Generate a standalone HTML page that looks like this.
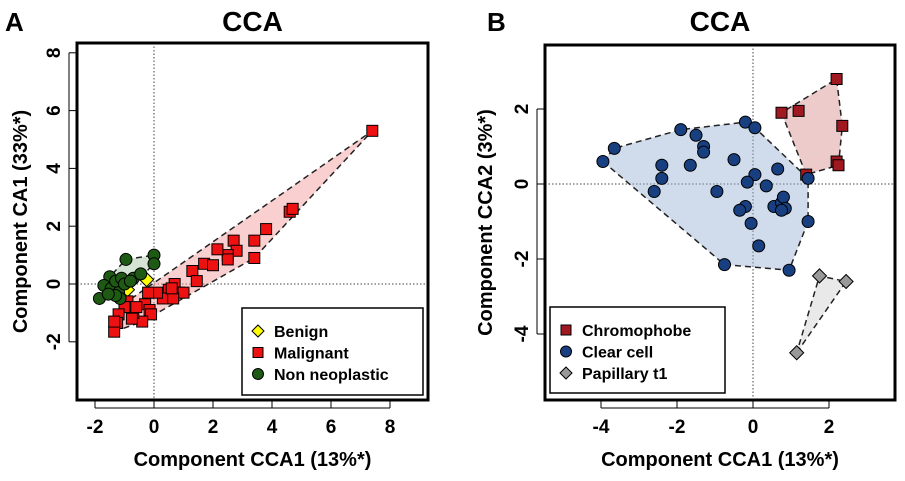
<!DOCTYPE html>
<html><head><meta charset="utf-8"><style>
body{margin:0;background:#fff;font-family:"Liberation Sans",Arial,sans-serif}
svg text{font-family:"Liberation Sans",Arial,sans-serif;font-weight:bold}
</style></head><body>
<svg id="s" width="905" height="476" viewBox="0 0 905 476"></svg>
<script>
// Panel A data
const aMalignant=[[7.4,5.3],[4.6,2.5],[4.7,2.6],[3.8,1.9],[3.4,1.5],[3.4,0.9],[2.7,1.5],[2.8,1.15],[2.5,1.0],[2.5,0.85],[2.15,1.2],[1.7,0.7],[2.0,0.65],[1.3,0.45],[1.45,0.1],[0.7,0],[0.85,-0.3],[1.0,-0.3],[0.5,-0.2],[0.3,-0.5],[0.65,-0.5],[0.6,-0.15],[0.1,-0.3],[-0.2,-0.3],[-0.3,-0.7],[-0.15,-0.9],[-0.1,-1.05],[-0.4,-1.3],[-0.7,-1.0],[-0.75,-1.2],[-0.9,-0.6],[-1.0,-0.8],[-1.2,-1.05],[-1.25,-1.35],[-1.35,-1.65],[-1.35,-1.3],[-0.6,-0.8]];
const aBenign=[[-0.25,0.15],[-0.9,-0.2]];
const aNonNeo=[[0.0,1.0],[0.0,0.7],[-0.95,0.85],[-1.5,0.25],[-1.7,-0.05],[-1.85,-0.5],[-1.45,-0.15],[-1.3,0.1],[-1.1,0.2],[-1.2,-0.3],[-1.0,0.0],[-0.7,0.2],[-0.45,0.35],[-1.15,-0.5],[-0.8,0.1],[-1.3,-0.4],[-1.55,-0.35]];
const aXTicks=[-2,0,2,4,6,8];
const aYTicks=[-2,0,2,4,6,8];
// Panel B data
const bClear=[[-3.95,0.6],[-3.65,0.95],[-1.9,1.45],[-1.5,1.3],[-1.3,1.0],[-1.3,0.85],[-0.2,1.65],[0.05,1.5],[-2.4,0.5],[-2.4,0.15],[-2.6,-0.2],[-1.65,0.5],[-0.5,0.65],[-0.95,-0.2],[0.05,0.25],[-0.15,0.05],[0.35,-0.05],[0.65,0.4],[1.45,0.15],[-0.2,-0.6],[-0.35,-0.7],[0.55,-0.6],[0.75,-0.5],[0.8,-0.35],[0.85,-0.65],[0.75,-0.7],[1.45,-1.0],[-0.05,-1.05],[0.15,-1.65],[-0.75,-2.15],[0.95,-2.3]];
const bChromo=[[0.75,1.9],[1.2,1.95],[2.2,2.8],[2.35,1.55],[2.2,0.6],[2.25,0.5],[1.4,0.25]];
const bPapillary=[[1.75,-2.45],[2.45,-2.6],[1.15,-4.5]];
const bXTicks=[-4,-2,0,2];
const bYTicks=[-4,-2,0,2];

const S=document.getElementById('s');const NS='http://www.w3.org/2000/svg';
function mk(t,a,p){const e=document.createElementNS(NS,t);for(const k in a)e.setAttribute(k,a[k]);(p||S).appendChild(e);return e;}
function hull(pts){const p=pts.slice().sort((a,b)=>a[0]-b[0]||a[1]-b[1]);const cr=(o,a,b)=>(a[0]-o[0])*(b[1]-o[1])-(a[1]-o[1])*(b[0]-o[0]);const lo=[],up=[];for(const q of p){while(lo.length>=2&&cr(lo[lo.length-2],lo[lo.length-1],q)<=0)lo.pop();lo.push(q);}for(const q of p.slice().reverse()){while(up.length>=2&&cr(up[up.length-2],up[up.length-1],q)<=0)up.pop();up.push(q);}return lo.slice(0,-1).concat(up.slice(0,-1));}
function marker(shape,x,y,fill,name){let e;
 if(shape==='sq')e=mk('rect',{x:x-5.5,y:y-5.5,width:11,height:11,fill:fill,stroke:'#000','stroke-width':1});
 else if(shape==='ci')e=mk('circle',{cx:x,cy:y,r:6,fill:fill,stroke:'#000','stroke-width':1});
 else e=mk('polygon',{points:`${x},${y-7} ${x+7},${y} ${x},${y+7} ${x-7},${y}`,fill:fill,stroke:'#000','stroke-width':1});
 
 return e;}
function panel(cfg){
 const X=v=>cfg.x0+v*cfg.kx, Y=v=>cfg.y0-v*cfg.ky;
 mk('line',{x1:X(0),x2:X(0),y1:cfg.box[1],y2:cfg.box[3],stroke:'#444','stroke-dasharray':'1.5,2','stroke-width':1});
 mk('line',{x1:cfg.box[0],x2:cfg.box[2],y1:Y(0),y2:Y(0),stroke:'#444','stroke-dasharray':'1.5,2','stroke-width':1});
 for(const g of cfg.groups){if(!g.hull)continue;const h=hull(g.pts);
  const pg=mk('polygon',{points:h.map(p=>X(p[0])+','+Y(p[1])).join(' '),fill:g.hull,stroke:'#222','stroke-width':1.5,'stroke-dasharray':'6,4'});
  
  }
 for(const g of cfg.groups)for(const p of g.pts)marker(g.shape,X(p[0]),Y(p[1]),g.fill,g.name+'-point');
 const b=cfg.box;const r=mk('rect',{x:b[0],y:b[1],width:b[2]-b[0],height:b[3]-b[1],fill:'none',stroke:'#000','stroke-width':3});
 
 for(const t of cfg.xt){mk('line',{x1:X(t),x2:X(t),y1:b[3]+1,y2:b[3]+8,stroke:'#000','stroke-width':1});
  const tx=mk('text',{x:X(t),y:b[3]+33,'text-anchor':'middle','font-size':19});tx.textContent=t;
  }
 mk('line',{x1:X(cfg.xt[0]),x2:X(cfg.xt[cfg.xt.length-1]),y1:b[3]+8,y2:b[3]+8,stroke:'#000','stroke-width':1});
 for(const t of cfg.yt){mk('line',{x1:b[0]-1,x2:b[0]-8,y1:Y(t),y2:Y(t),stroke:'#000','stroke-width':1});
  const tx=mk('text',{x:b[0]-17,y:Y(t),'text-anchor':'middle','font-size':19,transform:`rotate(-90 ${b[0]-17} ${Y(t)})`});tx.textContent=t;
  }
 mk('line',{x1:b[0]-8,x2:b[0]-8,y1:Y(cfg.yt[0]),y2:Y(cfg.yt[cfg.yt.length-1]),stroke:'#000','stroke-width':1});
 let t=mk('text',{x:(b[0]+b[2])/2,y:31,'text-anchor':'middle','font-size':28});t.textContent='CCA';
 
 t=mk('text',{x:cfg.letterX,y:31,'font-size':26});t.textContent=cfg.letter;
 
 t=mk('text',{x:(b[0]+b[2])/2,y:466,'text-anchor':'middle','font-size':20});t.textContent='Component CCA1 (13%*)';
 
 const yx=cfg.yTitleX,yy=(b[1]+b[3])/2;
 t=mk('text',{x:yx,y:yy,'text-anchor':'middle','font-size':20,transform:`rotate(-90 ${yx} ${yy})`});t.textContent=cfg.ytitle;
 
 const L=cfg.legend;const lr=mk('rect',{x:L[0],y:L[1],width:L[2],height:L[3],fill:'#fff',stroke:'#000','stroke-width':1.5});
 
 cfg.groups.forEach((g,i)=>{const cy=L[1]+23+i*21.5;
  const m=marker(g.shape==='sq'?'sq':g.shape,L[0]+16,cy,g.fill,'legend-marker');
  if(g.shape==='sq'){m.setAttribute('x',L[0]+11);m.setAttribute('y',cy-5);m.setAttribute('width',10);m.setAttribute('height',10);}
  if(g.shape==='ci')m.setAttribute('r',5.5);
  if(g.shape==='di')m.setAttribute('points',`${L[0]+16},${cy-6} ${L[0]+22},${cy} ${L[0]+16},${cy+6} ${L[0]+10},${cy}`);
  const tx=mk('text',{x:L[0]+32,y:cy+6,'font-size':16});tx.textContent=g.label;
  });
}
panel({id:'panel-a',letter:'A',letterX:5,x0:154,kx:29.5,y0:284,ky:28.9,box:[77,43,428,400],xt:aXTicks,yt:aYTicks,
 ytitle:'Component CA1 (33%*)',yTitleX:27,legend:[242,308,181,87],
 groups:[{name:'benign',label:'Benign',shape:'di',fill:'#ffff00',pts:aBenign},
  {name:'malignant',label:'Malignant',shape:'sq',fill:'#ee1111',pts:aMalignant,hull:'rgba(245,160,160,0.5)'},
  {name:'non-neoplastic',label:'Non neoplastic',shape:'ci',fill:'#1e5a14',pts:aNonNeo,hull:'rgba(170,200,170,0.5)'}]});
panel({id:'panel-b',letter:'B',letterX:487,x0:753,kx:38,y0:184,ky:37.5,box:[545,45,895,400],xt:bXTicks,yt:bYTicks,
 ytitle:'Component CCA2 (3%*)',yTitleX:492,legend:[550,307,175,86],
 groups:[{name:'chromophobe',label:'Chromophobe',shape:'sq',fill:'#a01820',pts:bChromo,hull:'rgba(215,140,140,0.45)'},
  {name:'clear-cell',label:'Clear cell',shape:'ci',fill:'#183f80',pts:bClear,hull:'rgba(150,175,210,0.45)'},
  {name:'papillary-t1',label:'Papillary t1',shape:'di',fill:'#999',pts:bPapillary,hull:'rgba(200,200,200,0.4)'}]});
</script>
</body></html>
